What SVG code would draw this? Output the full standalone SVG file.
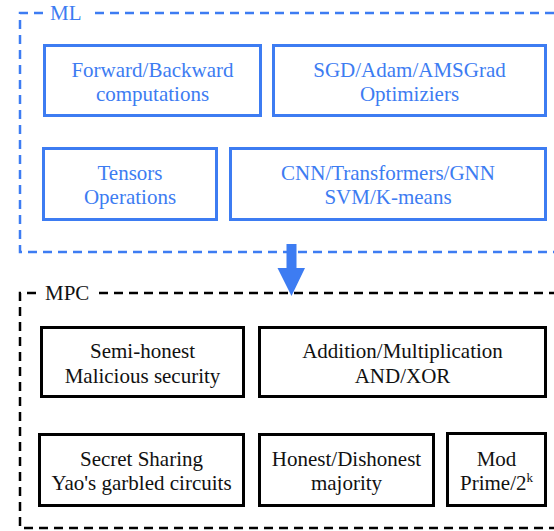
<svg xmlns="http://www.w3.org/2000/svg" width="554" height="531" viewBox="0 0 554 531" font-family="'Liberation Serif', 'DejaVu Serif', serif">
  <style>
    text { font-family: 'Liberation Serif', 'DejaVu Serif', serif; font-size: 21px; text-anchor: middle; }
    .ml-box { fill: #ffffff; stroke: #3d7cf2; stroke-width: 3; }
    .ml-text { fill: #3d7cf2; }
    .mpc-box { fill: #ffffff; stroke: #000000; stroke-width: 3; }
    .mpc-text { fill: #111111; }
    .frame { fill: none; stroke-width: 2.5; stroke-dasharray: 9 6; }
    .frame-ml { stroke: #3d7cf2; }
    .frame-mpc { stroke: #000000; }
    .title { text-anchor: start; }
  </style>
  <rect width="554" height="531" fill="#ffffff"/>

  <!-- ML group frame -->
  <g id="ml-frame">
    <path class="frame frame-ml" d="M43,13 H20 V252 H560"/>
    <path class="frame frame-ml" d="M95,13 H560"/>
    <text class="ml-text title" x="50" y="20">ML</text>
  </g>

  <!-- MPC group frame -->
  <g id="mpc-frame">
    <path class="frame frame-mpc" d="M36,293 H20 V528 H560"/>
    <path class="frame frame-mpc" d="M99,293 H560"/>
    <text class="mpc-text title" x="45" y="300">MPC</text>
  </g>

  <!-- ML nodes -->
  <g id="forward-backward">
    <rect class="ml-box" x="44.5" y="45.5" width="216" height="70"/>
    <text class="ml-text" x="152.5" y="77">Forward/Backward</text>
    <text class="ml-text" x="152.5" y="101">computations</text>
  </g>
  <g id="optimizers">
    <rect class="ml-box" x="273.5" y="45.5" width="272" height="70"/>
    <text class="ml-text" x="409.5" y="77">SGD/Adam/AMSGrad</text>
    <text class="ml-text" x="409.5" y="101">Optimiziers</text>
  </g>
  <g id="tensors">
    <rect class="ml-box" x="43.5" y="148.5" width="173" height="71"/>
    <text class="ml-text" x="130" y="180">Tensors</text>
    <text class="ml-text" x="130" y="204">Operations</text>
  </g>
  <g id="models">
    <rect class="ml-box" x="230.5" y="148.5" width="315" height="71"/>
    <text class="ml-text" x="388" y="180">CNN/Transformers/GNN</text>
    <text class="ml-text" x="388" y="204">SVM/K-means</text>
  </g>

  <!-- Connector from ML to MPC -->
  <g id="connectors">
    <path d="M286.5,244 H296.5 V268 H305 L291.5,296 L277.5,268 H286.5 Z" fill="#3d7cf2"/>
  </g>

  <!-- MPC nodes -->
  <g id="security">
    <rect class="mpc-box" x="41.5" y="327.5" width="202" height="69"/>
    <text class="mpc-text" x="142.5" y="358">Semi-honest</text>
    <text class="mpc-text" x="142.5" y="383">Malicious security</text>
  </g>
  <g id="arithmetic">
    <rect class="mpc-box" x="259.5" y="327.5" width="286" height="69"/>
    <text class="mpc-text" x="402.5" y="358">Addition/Multiplication</text>
    <text class="mpc-text" x="402.5" y="383">AND/XOR</text>
  </g>
  <g id="protocols">
    <rect class="mpc-box" x="39.5" y="434.5" width="204" height="71"/>
    <text class="mpc-text" x="141.5" y="466">Secret Sharing</text>
    <text class="mpc-text" x="141.5" y="490">Yao's garbled circuits</text>
  </g>
  <g id="majority">
    <rect class="mpc-box" x="259.5" y="434.5" width="174" height="71"/>
    <text class="mpc-text" x="346.5" y="466">Honest/Dishonest</text>
    <text class="mpc-text" x="346.5" y="490">majority</text>
  </g>
  <g id="modulus">
    <rect class="mpc-box" x="447.5" y="433.5" width="98" height="72"/>
    <text class="mpc-text" x="496.5" y="466">Mod</text>
    <text class="mpc-text" x="496.5" y="490">Prime/2<tspan font-size="13" dy="-8">k</tspan></text>
  </g>
</svg>
